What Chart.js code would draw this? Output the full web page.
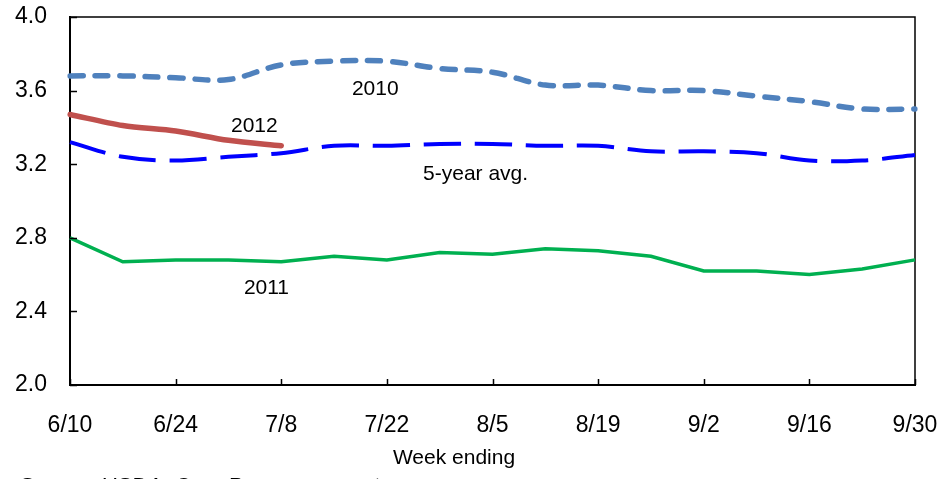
<!DOCTYPE html>
<html>
<head>
<meta charset="utf-8">
<script src="https://cdn.jsdelivr.net/npm/chart.js@4/dist/chart.umd.min.js"></script>
<style>
  html, body { margin: 0; padding: 0; background: #fff; }
  #wrap { width: 940px; height: 479px; position: relative; overflow: hidden; }
</style>
</head>
<body>
<div id="wrap"><canvas id="chart" width="940" height="479"></canvas></div>
<script>
// Weekly corn condition index, week ending 6/10 through 9/30
const weeks = ['6/10', '6/17', '6/24', '7/1', '7/8', '7/15', '7/22', '7/29', '8/5',
               '8/12', '8/19', '8/26', '9/2', '9/9', '9/16', '9/23', '9/30'];

const y2010 = [3.68, 3.68, 3.67, 3.66, 3.74, 3.76, 3.76, 3.72, 3.70,
               3.63, 3.63, 3.60, 3.60, 3.57, 3.54, 3.50, 3.50];
const y2011 = [2.80, 2.67, 2.68, 2.68, 2.67, 2.70, 2.68, 2.72, 2.71,
               2.74, 2.73, 2.70, 2.62, 2.62, 2.60, 2.63, 2.68];
const y2012 = [3.47, 3.41, 3.38, 3.33, 3.30];
const avg5 = [3.32, 3.24, 3.22, 3.24, 3.26, 3.30, 3.30, 3.31, 3.31,
              3.30, 3.30, 3.27, 3.27, 3.26, 3.22, 3.22, 3.25];

const yTicks = [2.0, 2.4, 2.8, 3.2, 3.6, 4.0];

const FONT = '"Liberation Sans", Arial, sans-serif';

// Series labels, placed in data space (week index, value)
const seriesLabels = [
  { text: '2010', x: 5.78, y: 3.606 },
  { text: '2012', x: 3.49, y: 3.408 },
  { text: '5-year avg.', x: 7.68, y: 3.144 },
  { text: '2011', x: 3.72, y: 2.524 }
];

// Box around the plot: top and right edges (left/bottom come from the axes)
const framePlugin = {
  id: 'frame',
  beforeDatasetsDraw(chart) {
    const { ctx, chartArea: a } = chart;
    ctx.save();
    ctx.strokeStyle = '#000';
    ctx.lineWidth = 1.5;
    ctx.beginPath();
    ctx.moveTo(a.left, a.top);
    ctx.lineTo(a.right, a.top);
    ctx.lineTo(a.right, a.bottom);
    ctx.stroke();
    ctx.restore();
  }
};

// Tick marks pointing into the plot
const innerTicksPlugin = {
  id: 'innerTicks',
  afterDatasetsDraw(chart) {
    const { ctx, chartArea: a, scales } = chart;
    ctx.save();
    ctx.strokeStyle = '#000';
    ctx.lineWidth = 1.5;
    ctx.beginPath();
    yTicks.forEach(v => {
      const py = Math.round(scales.y.getPixelForValue(v)) + 0.5;
      ctx.moveTo(a.left, py);
      ctx.lineTo(a.left + 7, py);
    });
    weeks.forEach((w, i) => {
      if (i % 2 !== 0) return;
      const px = Math.round(scales.x.getPixelForValue(i)) + 0.5;
      ctx.moveTo(px, a.bottom);
      ctx.lineTo(px, a.bottom - 6);
    });
    ctx.stroke();
    ctx.restore();
  }
};

// Series names, axis caption and source line
const textPlugin = {
  id: 'texts',
  afterDraw(chart) {
    const { ctx, scales } = chart;
    ctx.save();
    ctx.fillStyle = '#000';
    ctx.font = '21px ' + FONT;
    ctx.textAlign = 'center';
    ctx.textBaseline = 'middle';
    seriesLabels.forEach(l => {
      ctx.fillText(l.text, scales.x.getPixelForValue(l.x), scales.y.getPixelForValue(l.y));
    });
    ctx.fillText('Week ending', 454, 458);
    ctx.textAlign = 'left';
    ctx.textBaseline = 'alphabetic';
    ctx.font = '22px ' + FONT;
    ctx.fillText('Source: USDA, Crop Progress report.', 20, 493);
    ctx.restore();
  }
};

new Chart(document.getElementById('chart'), {
  type: 'line',
  data: {
    labels: weeks,
    datasets: [
      {
        label: '2010',
        data: y2010,
        borderColor: '#4F81BD',
        borderWidth: 5.5,
        borderDash: [13, 12],
        borderCapStyle: 'round',
        tension: 0.35,
        pointRadius: 0
      },
      {
        label: '5-year avg.',
        data: avg5,
        borderColor: '#0000FF',
        borderWidth: 4,
        borderDash: [37, 14],
        tension: 0.35,
        pointRadius: 0
      },
      {
        label: '2012',
        data: y2012,
        borderColor: '#C0504D',
        borderWidth: 5.5,
        borderCapStyle: 'round',
        tension: 0.3,
        pointRadius: 0
      },
      {
        label: '2011',
        data: y2011,
        borderColor: '#00B050',
        borderWidth: 3.5,
        tension: 0,
        pointRadius: 0
      }
    ]
  },
  options: {
    responsive: false,
    animation: false,
    layout: { padding: { top: 17, right: 25, left: 0, bottom: 0 } },
    plugins: {
      legend: { display: false },
      tooltip: { enabled: false }
    },
    scales: {
      x: {
        type: 'category',
        offset: false,
        grid: { display: false, drawTicks: false },
        border: { display: true, color: '#000', width: 2 },
        ticks: {
          autoSkip: false,
          maxRotation: 0,
          minRotation: 0,
          padding: 27,
          color: '#000',
          font: { family: FONT, size: 23 },
          callback: (v, i) => (i % 2 === 0 ? weeks[i] : '')
        },
        afterFit(scale) {
          scale.height = 94;
          scale.paddingLeft = 0;
          scale.paddingRight = 0;
        }
      },
      y: {
        min: 2.0,
        max: 4.0,
        grid: { display: false, drawTicks: false },
        border: { display: true, color: '#000', width: 2 },
        afterBuildTicks(scale) { scale.ticks = yTicks.map(v => ({ value: v })); },
        ticks: {
          padding: 23,
          color: '#000',
          font: { family: FONT, size: 23 },
          callback: v => Number(v).toFixed(1)
        },
        afterFit(scale) {
          scale.width = 70;
          scale.paddingTop = 0;
          scale.paddingBottom = 0;
        }
      }
    }
  },
  plugins: [framePlugin, innerTicksPlugin, textPlugin]
});
</script>
</body>
</html>
